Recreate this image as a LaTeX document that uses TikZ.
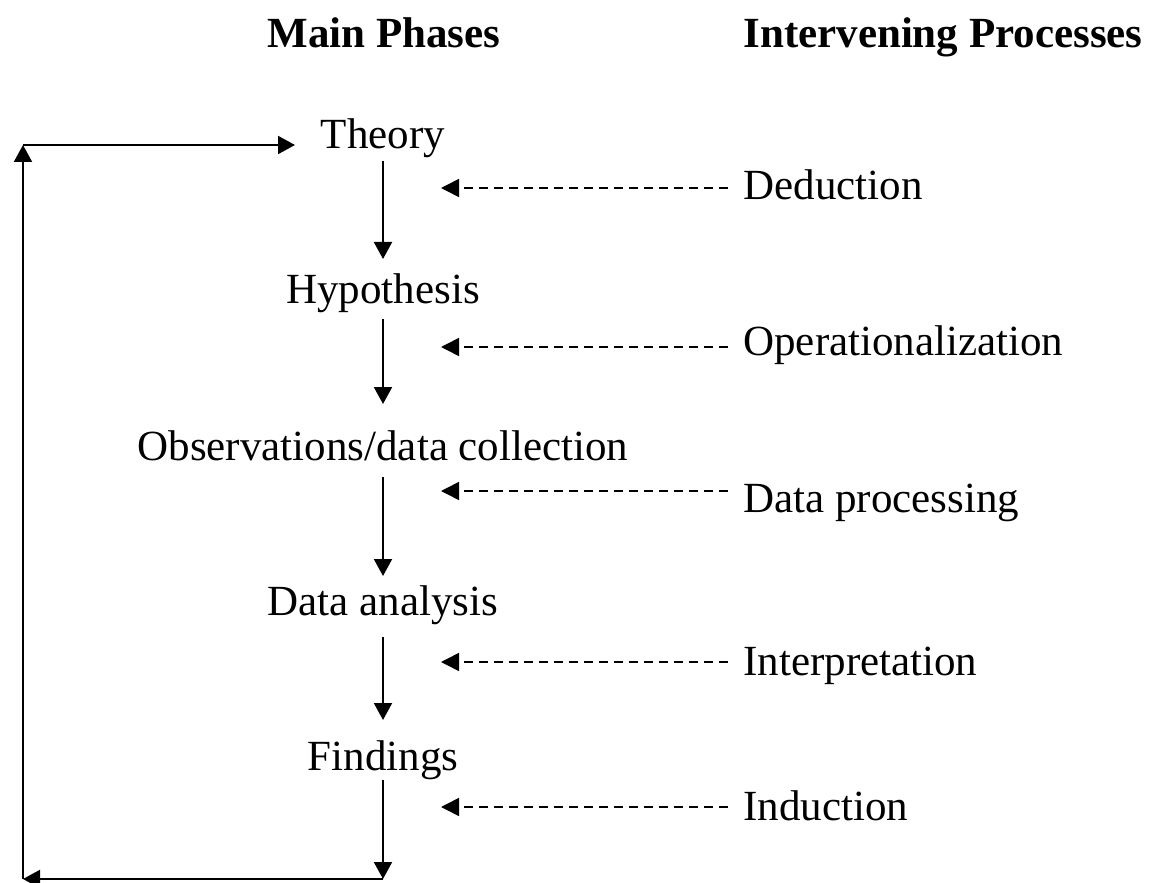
\documentclass[tikz,border=0pt]{standalone}
\usepackage{fontspec}
\setmainfont{Liberation Serif}
\usetikzlibrary{arrows.meta}

\begin{document}
\begin{tikzpicture}[x=0.5pt, y=-0.5pt,
  heading/.style={inner sep=0pt, font=\fontsize{21.5}{26}\selectfont\bfseries},
  phase/.style={inner sep=0pt, anchor=base, font=\fontsize{21.5}{26}\selectfont},
  process/.style={inner sep=0pt, anchor=base west, font=\fontsize{21.5}{26}\selectfont},
  flow/.style={line width=1pt, -{Triangle[length=8.5pt, width=9pt]}},
  link/.style={line width=0.8pt, dash pattern=on 4.5pt off 3pt, shorten <=7.5pt,
    -{Triangle[length=9pt, width=9pt]}}]
  \useasboundingbox (0,0) rectangle (1153,883);

  % Column headings
  \node[heading, anchor=base] (mainhead) at (384,48) {Main Phases};
  \node[heading, anchor=base west] (prochead) at (743,48) {Intervening Processes};

  % Main phases, one under the other
  \node[phase] (theory) at (383,149) {Theory};
  \node[phase] (hypo) at (383,304) {Hypothesis};
  \node[phase] (obs) at (383,460) {Observations/data collection};
  \node[phase] (anal) at (383,615) {Data analysis};
  \node[phase] (find) at (383,770) {Findings};

  % Intervening processes on the right
  \node[process] (ded) at (743,200) {Deduction};
  \node[process] (oper) at (743,356) {Operationalization};
  \node[process] (proc) at (743,512) {Data processing};
  \node[process] (interp) at (743,675) {Interpretation};
  \node[process] (ind) at (743,820) {Induction};

  % Ends of the arrows
  \coordinate (e1) at (383,259);
  \coordinate (e2) at (383,404);
  \coordinate (e3) at (383,576);
  \coordinate (e4) at (383,720);
  \coordinate (e5) at (383,879);
  \coordinate (d1) at (441,188);
  \coordinate (d2) at (441,347);
  \coordinate (d3) at (441,491);
  \coordinate (d4) at (441,662);
  \coordinate (d5) at (441,807);

  % Corners of the feedback loop
  \coordinate (bl) at (23,879);
  \coordinate (tl) at (23,145);
  \coordinate (tr) at (295,145);

  % Arrows between the phases
  \draw[flow, shorten <=1pt] (theory.south) -- (e1);
  \draw[flow, shorten <=2.5pt] (hypo.south) -- (e2);
  \draw[flow, shorten <=8pt] (obs.south) -- (e3);
  \draw[flow, shorten <=6pt] (anal.south) -- (e4);
  \draw[flow] (find.south) -- (e5);

  % Dashed arrows from the processes
  \draw[link] (ded.west |- d1) -- (d1);
  \draw[link] (oper.west |- d2) -- (d2);
  \draw[link] (proc.west |- d3) -- (d3);
  \draw[link] (interp.west |- d4) -- (d4);
  \draw[link] (ind.west |- d5) -- (d5);

  % Loop back to the theory
  \draw[flow] (e5) -- (bl);
  \draw[flow] (bl) -- (tl);
  \draw[flow] (tl) -- (tr);
\end{tikzpicture}
\end{document}
